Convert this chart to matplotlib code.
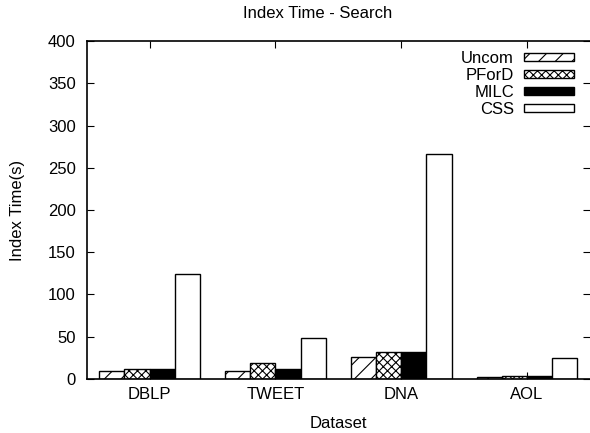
import numpy as np
import matplotlib
matplotlib.use('Agg')
import matplotlib.pyplot as plt

plt.rcParams['font.family'] = ['Liberation Sans', 'DejaVu Sans']
plt.rcParams['font.size'] = 12
plt.rcParams['hatch.linewidth'] = 0.8

# 数据
datasets = ['DBLP', 'TWEET', 'DNA', 'AOL']
methods = ['Uncom', 'PForD', 'MILC', 'CSS']
uncom = [9.5, 9.5, 26, 2]
pford = [11.5, 19, 32, 3]
milc = [12, 12, 32, 3.5]
css = [124, 49, 266, 24.5]

series = [uncom, pford, milc, css]
hatches = ['//', 'xxxx', None, None]
faces = ['white', 'white', 'black', 'white']

fig = plt.figure(figsize=(5.9, 4.33), dpi=100)
ax = fig.add_axes([0.147, 0.125, 0.853, 0.78])

x = np.arange(len(datasets))
w = 0.2
for k, (vals, name) in enumerate(zip(series, methods)):
    ax.bar(x - 0.4 + w * (k + 0.5), vals, width=w, color=faces[k],
           edgecolor='black', linewidth=1.0, hatch=hatches[k], label=name)

ax.set_xlim(-0.5, 3.5)
ax.set_ylim(0, 400)
ax.set_yticks(np.arange(0, 401, 50))
ax.set_xticks(x)
ax.set_xticklabels(datasets)
ax.tick_params(axis='x', pad=6)
ax.tick_params(axis='y', pad=8)
ax.tick_params(direction='in', top=True, right=True, length=5, width=0.8)
ax.spines['right'].set_visible(False)
for s in ['left', 'bottom', 'top']:
    ax.spines[s].set_linewidth(1.2)

# 标题与坐标轴名称
fig.text(318 / 590, 1 - 14 / 433, 'Index Time - Search', ha='center', va='center')
fig.text(338 / 590, 1 - 423 / 433, 'Dataset', ha='center', va='center')
fig.text(18 / 590, 1 - 210 / 433, 'Index Time(s)', ha='center', va='center',
         rotation=90)

leg = ax.legend(loc='upper right', frameon=False, markerfirst=False,
                handlelength=3.0, handleheight=0.42, labelspacing=0.12,
                borderaxespad=0.0, borderpad=0.0, handletextpad=0.6,
                bbox_to_anchor=(574 / 590, 1 - 51 / 433),
                bbox_transform=fig.transFigure)
for t in leg.get_texts():
    t.set_ha('right')

fig.savefig('out.png', dpi=100)
